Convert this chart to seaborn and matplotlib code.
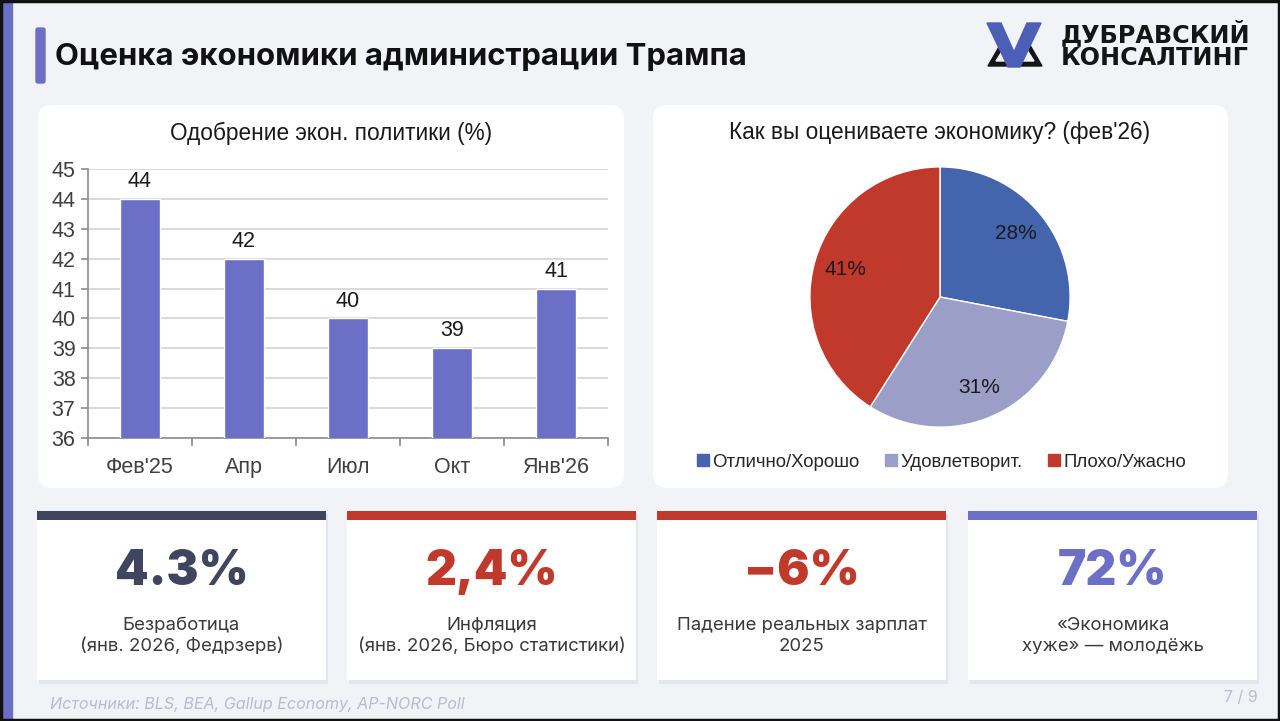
import matplotlib
matplotlib.use("Agg")
import matplotlib.pyplot as plt
import seaborn as sns
import pandas as pd
from matplotlib.patches import FancyBboxPatch, Rectangle, Polygon
from matplotlib.lines import Line2D

# ---------------- data ----------------
bar_months = ["Фев'25", "Апр", "Июл", "Окт", "Янв'26"]
bar_values = [44, 42, 40, 39, 41]

pie_labels = ["Отлично/Хорошо", "Удовлетворит.", "Плохо/Ужасно"]
pie_values = [28, 31, 41]

card_values = ["4.3%", "2,4%", "\u22126%", "72%"]
card_texts = ["Безработица\n(янв. 2026, Федрзерв)",
              "Инфляция\n(янв. 2026, Бюро статистики)",
              "Падение реальных зарплат\n2025",
              "«Экономика\nхуже» — молодёжь"]

# ---------------- style ----------------
sns.set_theme(style="white")
plt.rcParams['font.family'] = ['Liberation Sans', 'DejaVu Sans']

BG = "#f2f3f7"
PURPLE = "#6b70c6"
NAVY = "#40455f"
RED = "#c0392b"
pie_colors = ["#4464ae", "#9b9fc8", "#c0392b"]
card_colors = [NAVY, RED, RED, PURPLE]
INTER = ["Inter", "DejaVu Sans"]

W, H = 1280, 721
fig = plt.figure(figsize=(W / 100, H / 100), dpi=100)
fig.patch.set_facecolor(BG)

bg = fig.add_axes([0, 0, 1, 1])
bg.set_xlim(0, W)
bg.set_ylim(H, 0)
bg.axis("off")
bg.set_zorder(0)

# left strip + frame
bg.add_patch(Rectangle((0, 0), 12, H, color=PURPLE, zorder=1))
bg.add_patch(Rectangle((0.5, 0.5), W - 1.5, H - 1.5, fill=False, ec="#111111", lw=2.5, zorder=5))

# title
bg.add_patch(FancyBboxPatch((36, 28), 9, 55, boxstyle="round,pad=0,rounding_size=2",
                            color=PURPLE, zorder=2))
bg.text(55, 57, "Оценка экономики администрации Трампа", fontsize=22.4, fontweight="bold",
        family=INTER, color="#111111", va="center", ha="left")

# logo
bg.add_patch(Polygon([(988, 66), (1003, 40), (1018, 66)], closed=True, color="#151515", zorder=2))
bg.add_patch(Polygon([(996, 61), (1003, 50), (1010, 61)], closed=True, color=BG, zorder=3))
bg.add_patch(Polygon([(1012, 66), (1027, 40), (1042, 66)], closed=True, color="#151515", zorder=2))
bg.add_patch(Polygon([(1020, 61), (1027, 50), (1034, 61)], closed=True, color=BG, zorder=3))
bg.add_patch(Polygon([(987, 23), (1001, 23), (1014, 52), (1027, 23), (1041, 23), (1020, 67), (1008, 67)],
                     closed=True, color="#4a5fb5", zorder=4))
bg.text(1061, 42, "ДУБРАВСКИЙ", fontsize=17.2, fontweight="bold", family=["DejaVu Sans"],
        color="#151515", va="baseline", ha="left")
bg.text(1061, 65, "КОНСАЛТИНГ", fontsize=17.2, fontweight="bold", family=["DejaVu Sans"],
        color="#151515", va="baseline", ha="left")

# panels
for x0, x1 in [(38, 624), (653, 1228)]:
    bg.add_patch(FancyBboxPatch((x0, 105), x1 - x0, 383, boxstyle="round,pad=0,rounding_size=14",
                                fc="white", ec="none", zorder=1))

bg.text(331, 133, "Одобрение экон. политики (%)", fontsize=16.3, color="#1a1a1a",
        ha="center", va="center")
bg.text(940, 133, "Как вы оцениваете экономику? (фев'26)", fontsize=16.3, color="#1a1a1a",
        ha="center", va="center")

# cards
card_x = [37, 347, 657, 968]
cw = 289
for i, x0 in enumerate(card_x):
    bg.add_patch(Rectangle((x0 + 2, 514), cw, 170, fc="#e4e6ee", ec="none", zorder=1))
    bg.add_patch(Rectangle((x0, 511), cw, 169, fc="white", ec="none", zorder=2))
    bg.add_patch(Rectangle((x0, 511), cw, 9, fc=card_colors[i], ec="none", zorder=3))
    cx = x0 + cw / 2
    bg.text(cx, 572, card_values[i], fontsize=34.5, fontweight=900, family=INTER,
            color=card_colors[i], ha="center", va="center", zorder=4)
    bg.text(cx, 636, card_texts[i], fontsize=13.4, family=INTER, color="#3a3a3a",
            ha="center", va="center", linespacing=1.25, zorder=4)

# footer
bg.text(50, 705, "Источники: BLS, BEA, Gallup Economy, AP-NORC Poll", fontsize=11.6, style="italic",
        family=INTER, color="#b8bccb", ha="left", va="center")
bg.text(1258, 698, "7 / 9", fontsize=11.5, family=INTER, color="#b8bccb",
        ha="right", va="center")

# ---------------- bar chart ----------------
ax = fig.add_axes([88 / W, 1 - 438 / H, 520 / W, 269 / H])
ax.set_zorder(2)
ax.patch.set_alpha(0)
df = pd.DataFrame({"month": bar_months, "value": bar_values})
sns.barplot(data=df, x="month", y="value", color=PURPLE, saturation=1, width=0.39, ax=ax, zorder=3)
ax.set_ylim(36, 45)
ax.set_yticks(range(36, 46))
ax.set_xlim(-0.5, len(bar_months) - 0.5)
ax.yaxis.grid(True, color="#d9d9d9", lw=1.4)
ax.set_axisbelow(True)
ax.set_xlabel("")
ax.set_ylabel("")
for s in ["top", "right"]:
    ax.spines[s].set_visible(False)
for s in ["left", "bottom"]:
    ax.spines[s].set_color("#8c8c8c")
    ax.spines[s].set_linewidth(1.2)
ax.tick_params(axis="y", labelsize=15.5, colors="#8c8c8c", labelcolor="#404040",
               length=5, width=1.2, direction="out", left=True, pad=4)
ax.tick_params(axis="x", which="major", labelsize=15.5, labelcolor="#404040", length=0, pad=14)
ax.set_xticks([i - 0.5 for i in range(len(bar_months) + 1)], minor=True)
ax.tick_params(axis="x", which="minor", length=6, width=1.2, color="#8c8c8c", bottom=True)
for c in ax.containers:
    ax.bar_label(c, fontsize=15.5, color="#1a1a1a", padding=5)

# ---------------- pie chart ----------------
pax = fig.add_axes([(940 - 140.5) / W, 1 - (297 + 140.5) / H, 281 / W, 281 / H])
pax.set_zorder(2)
wedges, texts, autotexts = pax.pie(pie_values, colors=pie_colors, startangle=90, counterclock=False,
                                   autopct="%d%%", pctdistance=0.76,
                                   textprops=dict(fontsize=15, color="#1a1a1a"))
pax.set_xlim(-1.08, 1.08)
pax.set_ylim(-1.08, 1.08)
pax.set_aspect("equal")
pax.axis("off")
handles = [Line2D([], [], marker="s", ls="", color=c, markersize=8) for c in pie_colors]
fig.legend(handles, pie_labels, loc="center", bbox_to_anchor=(941 / W, 1 - 462 / H), ncol=3,
           frameon=False, fontsize=13.4, handletextpad=0.1, columnspacing=1.3, handlelength=0.8)

fig.savefig("out.png", dpi=100, facecolor=fig.get_facecolor())
